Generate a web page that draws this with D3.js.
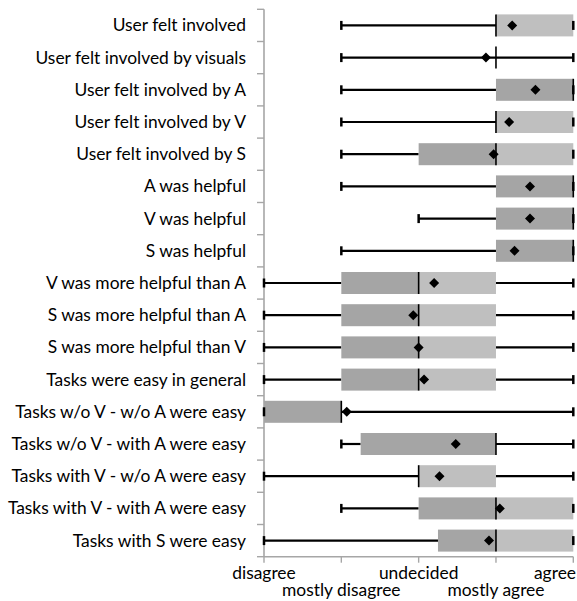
<!DOCTYPE html>
<html>
<head>
<meta charset="utf-8">
<script src="https://cdn.jsdelivr.net/npm/d3@7"></script>
<style>
  html, body { margin: 0; padding: 0; background: #fff; }
  svg { display: block; }
  text { font-family: Lato, "Open Sans", sans-serif; fill: #000; }
</style>
</head>
<body>
<svg id="chart" width="577" height="601"></svg>
<script>
// Survey statements (top to bottom)
const statements = [
  "User felt involved",
  "User felt involved by visuals",
  "User felt involved by A",
  "User felt involved by V",
  "User felt involved by S",
  "A was helpful",
  "V was helpful",
  "S was helpful",
  "V was more helpful than A",
  "S was more helpful than A",
  "S was more helpful than V",
  "Tasks were easy in general",
  "Tasks w/o V - w/o A were easy",
  "Tasks w/o V - with A were easy",
  "Tasks with V - w/o A were easy",
  "Tasks with V - with A were easy",
  "Tasks with S were easy"
];

// Five-number summaries and means on the 1..5 Likert scale
const minVals    = [2, 2, 2, 2, 2, 2, 3, 2, 1, 1, 1, 1, 1, 2, 1, 2, 1];
const q1Vals     = [4, 4, 4, 4, 3, 4, 4, 4, 2, 2, 2, 2, 1, 2.25, 3, 3, 3.25];
const medianVals = [4, 4, 5, 4, 4, 5, 5, 5, 3, 3, 3, 3, 2, 4, 3, 4, 4];
const q3Vals     = [5, 4, 5, 5, 5, 5, 5, 5, 4, 4, 4, 4, 2, 4, 4, 5, 5];
const maxVals    = [5, 5, 5, 5, 5, 5, 5, 5, 5, 5, 5, 5, 5, 5, 5, 5, 5];
const meanVals   = [4.21, 3.87, 4.51, 4.17, 3.97, 4.44, 4.44, 4.24, 3.2, 2.93, 3.0, 3.07, 2.07, 3.48, 3.27, 4.05, 3.91];

// Scale ticks
const tickValues = [1, 2, 3, 4, 5];
const tickLabels = ["disagree", "mostly disagree", "undecided", "mostly agree", "agree"];

(function draw() {
  const rows = statements.map((s, i) => ({
    label: s, min: minVals[i], q1: q1Vals[i], median: medianVals[i],
    q3: q3Vals[i], max: maxVals[i], mean: meanVals[i]
  }));

  const svg = d3.select("#chart");
  const plotLeft = 264, plotRight = 573.3, plotTop = 9.3, plotBottom = 556.7;
  const fontSize = 17.4;

  const x = d3.scaleLinear().domain([1, 5]).range([plotLeft, plotRight]);
  const y = d3.scaleBand().domain(statements).range([plotTop, plotBottom]);

  const boxH = 22, capH = 9;
  const darkFill = "#a5a5a5", lightFill = "#bfbfbf", axisColor = "#a6a6a6";

  // y axis: vertical line with ticks at category boundaries
  const yAxis = svg.append("g");
  yAxis.append("line")
    .attr("x1", plotLeft).attr("x2", plotLeft).attr("y1", plotTop).attr("y2", plotBottom)
    .attr("stroke", axisColor).attr("stroke-width", 1.6);
  const boundaries = statements.map(s => y(s)).concat([plotBottom]);
  yAxis.selectAll("line.tick").data(boundaries).join("line")
    .attr("class", "tick")
    .attr("x1", plotLeft - 7).attr("x2", plotLeft)
    .attr("y1", d => d).attr("y2", d => d)
    .attr("stroke", axisColor).attr("stroke-width", 1.4);
  yAxis.selectAll("text").data(statements).join("text")
    .attr("x", 246)
    .attr("y", d => y(d) + y.bandwidth() / 2)
    .attr("dy", "0.35em")
    .attr("text-anchor", "end")
    .attr("font-size", fontSize)
    .text(d => d);

  // x axis
  const xAxis = svg.append("g");
  xAxis.append("line")
    .attr("x1", plotLeft).attr("x2", plotRight).attr("y1", plotBottom).attr("y2", plotBottom)
    .attr("stroke", axisColor).attr("stroke-width", 1.6);
  xAxis.selectAll("line.tick").data(tickValues).join("line")
    .attr("class", "tick")
    .attr("x1", d => x(d)).attr("x2", d => x(d))
    .attr("y1", plotBottom).attr("y2", plotBottom + 6)
    .attr("stroke", axisColor).attr("stroke-width", 1.4);
  xAxis.selectAll("text").data(tickValues).join("text")
    .attr("x", d => x(d))
    .attr("y", (d, i) => i % 2 === 0 ? 579 : 596)
    .attr("text-anchor", "middle")
    .attr("font-size", fontSize)
    .text((d, i) => tickLabels[i])
    .each(function (d) {
      // keep the outermost label inside the canvas
      const w = this.getComputedTextLength();
      if (x(d) + w / 2 > 576) d3.select(this).attr("x", 576).attr("text-anchor", "end");
    });

  // box plots
  const g = svg.append("g");
  rows.forEach(d => {
    const cy = y(d.label) + y.bandwidth() / 2;
    const row = g.append("g");

    // whiskers
    row.append("line")
      .attr("x1", x(d.min)).attr("x2", x(d.q1))
      .attr("y1", cy).attr("y2", cy)
      .attr("stroke", "#000").attr("stroke-width", 2.2);
    row.append("line")
      .attr("x1", x(d.q3)).attr("x2", x(d.max))
      .attr("y1", cy).attr("y2", cy)
      .attr("stroke", "#000").attr("stroke-width", 2.2);

    // boxes: Q1..median darker, median..Q3 lighter
    if (d.median > d.q1) {
      row.append("rect")
        .attr("x", x(d.q1)).attr("width", x(d.median) - x(d.q1))
        .attr("y", cy - boxH / 2).attr("height", boxH)
        .attr("fill", darkFill);
    }
    if (d.q3 > d.median) {
      row.append("rect")
        .attr("x", x(d.median)).attr("width", x(d.q3) - x(d.median))
        .attr("y", cy - boxH / 2).attr("height", boxH)
        .attr("fill", lightFill);
    }

    // whisker caps
    [d.min, d.max].forEach(v => {
      row.append("line")
        .attr("x1", x(v)).attr("x2", x(v))
        .attr("y1", cy - capH / 2).attr("y2", cy + capH / 2)
        .attr("stroke", "#000").attr("stroke-width", 2.5);
    });

    // median
    row.append("line")
      .attr("x1", x(d.median)).attr("x2", x(d.median))
      .attr("y1", cy - boxH / 2).attr("y2", cy + boxH / 2)
      .attr("stroke", "#000").attr("stroke-width", 1.6);

    // mean marker
    row.append("path")
      .attr("d", d3.symbol().type(d3.symbolSquare).size(50)())
      .attr("transform", `translate(${x(d.mean)},${cy}) rotate(45)`)
      .attr("fill", "#000");
  });
})();
</script>
</body>
</html>
